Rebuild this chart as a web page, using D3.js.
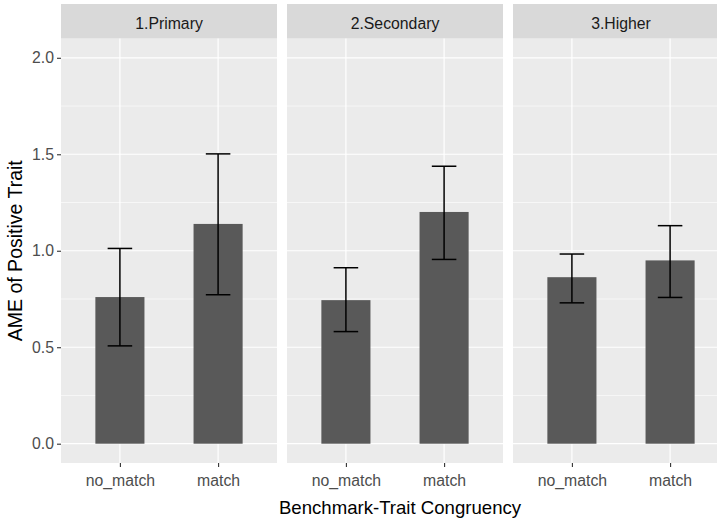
<!DOCTYPE html>
<html>
<head>
<meta charset="utf-8">
<script src="https://cdn.jsdelivr.net/npm/d3@7"></script>
<style>
  body { margin: 0; background: #fff; }
  svg { display: block; font-family: "Liberation Sans", Arial, sans-serif; }
</style>
</head>
<body>
<div id="plot"></div>
<script>
// Facets (education level) and x categories
const levels = ["1.Primary", "2.Secondary", "3.Higher"];
const congruency = ["no_match", "match"];

// AME estimates, one row per facet: [no_match, match]
const ame = [[0.760, 1.139], [0.744, 1.201], [0.863, 0.950]];
const ciLower = [[0.507, 0.772], [0.581, 0.955], [0.730, 0.758]];
const ciUpper = [[1.012, 1.502], [0.912, 1.438], [0.983, 1.130]];

const yTicks = [0, 0.5, 1.0, 1.5, 2.0];
const yMinor = [0.25, 0.75, 1.25, 1.75];

const width = 717, height = 521;
const panel = {top: 38.5, bottom: 463, left: 61, width: 216, gap: 10};
const stripTop = 4;

const svg = d3.select("#plot").append("svg")
  .attr("width", width)
  .attr("height", height);

// y scale shared by all facets (0..2 with 5% expansion)
const y = d3.scaleLinear([-0.1, 2.1], [panel.bottom, panel.top]);
// x scale inside one facet: discrete positions 1,2 with 0.6 expansion
const x = d3.scaleLinear([0.4, 2.6], [0, panel.width]);
const xPos = c => x(congruency.indexOf(c) + 1);

const rows = levels.map((lv, i) => congruency.map((c, j) => ({
  level: lv, cat: c, value: ame[i][j], lo: ciLower[i][j], hi: ciUpper[i][j]
})));

const facets = svg.selectAll("g.facet")
  .data(levels)
  .join("g")
    .attr("class", "facet")
    .attr("transform", (d, i) => `translate(${panel.left + i * (panel.width + panel.gap)},0)`);

// panel background
facets.append("rect")
  .attr("y", panel.top)
  .attr("width", panel.width)
  .attr("height", panel.bottom - panel.top)
  .attr("fill", "#EBEBEB");

// strip
facets.append("rect")
  .attr("y", stripTop)
  .attr("width", panel.width)
  .attr("height", panel.top - stripTop)
  .attr("fill", "#D9D9D9");
facets.append("text")
  .attr("x", panel.width / 2)
  .attr("y", 28.5)
  .attr("text-anchor", "middle")
  .attr("fill", "#1A1A1A")
  .style("font-size", "15.8px")
  .text(d => d);

// grid
facets.selectAll("line.minor")
  .data(yMinor)
  .join("line")
    .attr("x1", 0).attr("x2", panel.width)
    .attr("y1", d => y(d)).attr("y2", d => y(d))
    .attr("stroke", "#fff").attr("stroke-width", 0.6);
facets.selectAll("line.major")
  .data(yTicks)
  .join("line")
    .attr("x1", 0).attr("x2", panel.width)
    .attr("y1", d => y(d)).attr("y2", d => y(d))
    .attr("stroke", "#fff").attr("stroke-width", 1.2);
facets.selectAll("line.vmajor")
  .data(congruency)
  .join("line")
    .attr("x1", xPos).attr("x2", xPos)
    .attr("y1", panel.top).attr("y2", panel.bottom)
    .attr("stroke", "#fff").attr("stroke-width", 1.2);

// bars
const halfBar = (x(1.25) - x(1));
facets.selectAll("rect.bar")
  .data((d, i) => rows[i])
  .join("rect")
    .attr("class", "bar")
    .attr("x", d => xPos(d.cat) - halfBar)
    .attr("width", 2 * halfBar)
    .attr("y", d => y(d.value))
    .attr("height", d => y(0) - y(d.value))
    .attr("fill", "#595959");

// error bars
const halfCap = (x(1.125) - x(1));
const eb = facets.selectAll("g.eb")
  .data((d, i) => rows[i])
  .join("g")
    .attr("class", "eb")
    .attr("stroke", "#000")
    .attr("stroke-width", 1.5);
eb.append("line")
  .attr("x1", d => xPos(d.cat)).attr("x2", d => xPos(d.cat))
  .attr("y1", d => y(d.lo)).attr("y2", d => y(d.hi));
eb.append("line")
  .attr("x1", d => xPos(d.cat) - halfCap).attr("x2", d => xPos(d.cat) + halfCap)
  .attr("y1", d => y(d.lo)).attr("y2", d => y(d.lo));
eb.append("line")
  .attr("x1", d => xPos(d.cat) - halfCap).attr("x2", d => xPos(d.cat) + halfCap)
  .attr("y1", d => y(d.hi)).attr("y2", d => y(d.hi));

// x axis per facet
facets.append("g")
  .attr("transform", `translate(0,${panel.bottom})`)
  .call(d3.axisBottom(x).tickValues([1, 2]).tickFormat(d => congruency[d - 1])
    .tickSize(4).tickPadding(8))
  .call(g => g.select(".domain").remove())
  .call(g => g.selectAll("line").attr("stroke", "#333333").attr("stroke-width", 1.1))
  .call(g => g.selectAll("text").attr("fill", "#4D4D4D")
    .style("font-size", "15.8px").style("font-family", "Liberation Sans, Arial, sans-serif"));

// y axis on first facet
svg.append("g")
  .attr("transform", `translate(${panel.left},0)`)
  .call(d3.axisLeft(y).tickValues(yTicks).tickFormat(d3.format(".1f"))
    .tickSize(4).tickPadding(3))
  .call(g => g.select(".domain").remove())
  .call(g => g.selectAll("line").attr("stroke", "#333333").attr("stroke-width", 1.1))
  .call(g => g.selectAll("text").attr("fill", "#4D4D4D")
    .style("font-size", "15.8px").style("font-family", "Liberation Sans, Arial, sans-serif"));

// axis titles
svg.append("text")
  .attr("x", 400)
  .attr("y", 514)
  .attr("text-anchor", "middle")
  .attr("fill", "#000")
  .style("font-size", "18.6px")
  .text("Benchmark-Trait Congruency");

svg.append("text")
  .attr("transform", `translate(22,${(panel.top + panel.bottom) / 2}) rotate(-90)`)
  .attr("text-anchor", "middle")
  .attr("fill", "#000")
  .style("font-size", "19.5px")
  .text("AME of Positive Trait");
</script>
</body>
</html>
